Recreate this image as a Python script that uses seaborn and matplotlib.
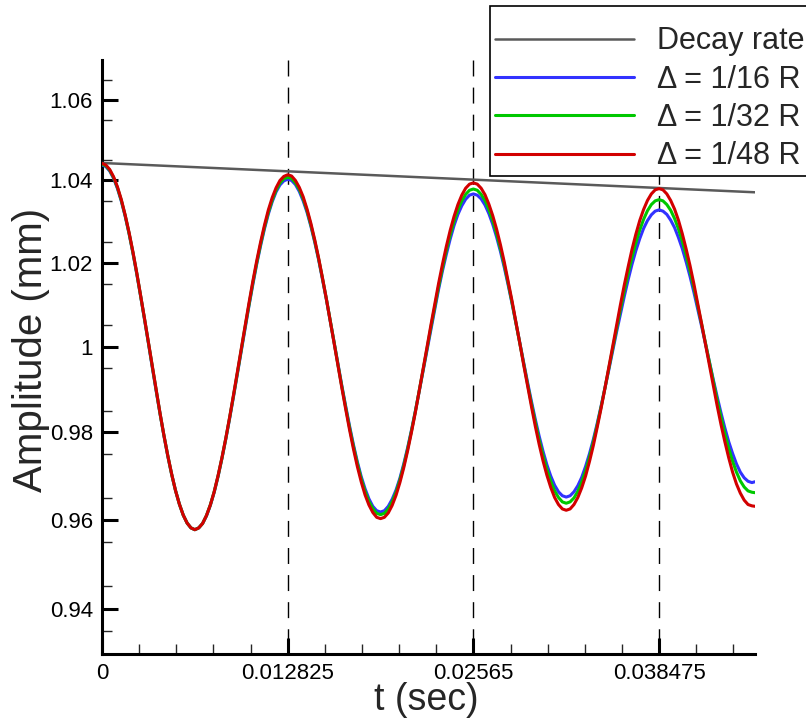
import pandas as pd
import matplotlib
matplotlib.use("Agg")
import matplotlib.pyplot as plt
from matplotlib.ticker import FixedLocator, FixedFormatter, NullFormatter
import seaborn as sns

# time samples (sec)
t = [0.0,
     0.0002672, 0.0005344, 0.0008016, 0.0010688, 0.0013359, 0.0016031, 0.0018703, 0.0021375,
     0.0024047, 0.0026719, 0.0029391, 0.0032063, 0.0034734, 0.0037406, 0.0040078, 0.004275,
     0.0045422, 0.0048094, 0.0050766, 0.0053438, 0.0056109, 0.0058781, 0.0061453, 0.0064125,
     0.0066797, 0.0069469, 0.0072141, 0.0074813, 0.0077484, 0.0080156, 0.0082828, 0.00855,
     0.0088172, 0.0090844, 0.0093516, 0.0096188, 0.0098859, 0.0101531, 0.0104203, 0.0106875,
     0.0109547, 0.0112219, 0.0114891, 0.0117563, 0.0120234, 0.0122906, 0.0125578, 0.012825,
     0.0130922, 0.0133594, 0.0136266, 0.0138938, 0.0141609, 0.0144281, 0.0146953, 0.0149625,
     0.0152297, 0.0154969, 0.0157641, 0.0160313, 0.0162984, 0.0165656, 0.0168328, 0.0171,
     0.0173672, 0.0176344, 0.0179016, 0.0181688, 0.0184359, 0.0187031, 0.0189703, 0.0192375,
     0.0195047, 0.0197719, 0.0200391, 0.0203063, 0.0205734, 0.0208406, 0.0211078, 0.021375,
     0.0216422, 0.0219094, 0.0221766, 0.0224438, 0.0227109, 0.0229781, 0.0232453, 0.0235125,
     0.0237797, 0.0240469, 0.0243141, 0.0245813, 0.0248484, 0.0251156, 0.0253828, 0.02565,
     0.0259172, 0.0261844, 0.0264516, 0.0267188, 0.0269859, 0.0272531, 0.0275203, 0.0277875,
     0.0280547, 0.0283219, 0.0285891, 0.0288563, 0.0291234, 0.0293906, 0.0296578, 0.029925,
     0.0301922, 0.0304594, 0.0307266, 0.0309938, 0.0312609, 0.0315281, 0.0317953, 0.0320625,
     0.0323297, 0.0325969, 0.0328641, 0.0331313, 0.0333984, 0.0336656, 0.0339328, 0.0342,
     0.0344672, 0.0347344, 0.0350016, 0.0352688, 0.0355359, 0.0358031, 0.0360703, 0.0363375,
     0.0366047, 0.0368719, 0.0371391, 0.0374063, 0.0376734, 0.0379406, 0.0382078, 0.038475,
     0.0387422, 0.0390094, 0.0392766, 0.0395438, 0.0398109, 0.0400781, 0.0403453, 0.0406125,
     0.0408797, 0.0411469, 0.0414141, 0.0416813, 0.0419484, 0.0422156, 0.0424828, 0.04275,
     0.0430172, 0.0432844, 0.0435516, 0.0438188, 0.0440859, 0.0443531, 0.0446203, 0.0448875,
     0.0451]

# amplitude (mm), delta = 1/16 R
amp_16 = [1.0438,
          1.0434, 1.0423, 1.0405, 1.0380, 1.0349, 1.0312, 1.0270, 1.0223, 1.0172, 1.0119, 1.0064, 1.0008,
          0.9951, 0.9896, 0.9843, 0.9792, 0.9745, 0.9703, 0.9666, 0.9635, 0.9610, 0.9592, 0.9581, 0.9577,
          0.9581, 0.9591, 0.9608, 0.9632, 0.9662, 0.9698, 0.9739, 0.9784, 0.9832, 0.9883, 0.9936, 0.9990,
          1.0044, 1.0097, 1.0148, 1.0197, 1.0241, 1.0282, 1.0318, 1.0348, 1.0372, 1.0389, 1.0399, 1.0403,
          1.0400, 1.0390, 1.0373, 1.0350, 1.0322, 1.0288, 1.0249, 1.0207, 1.0160, 1.0112, 1.0061, 1.0010,
          0.9959, 0.9908, 0.9860, 0.9814, 0.9771, 0.9732, 0.9698, 0.9670, 0.9647, 0.9630, 0.9620, 0.9617,
          0.9620, 0.9630, 0.9646, 0.9667, 0.9694, 0.9727, 0.9764, 0.9805, 0.9849, 0.9895, 0.9943, 0.9992,
          1.0041, 1.0089, 1.0136, 1.0180, 1.0220, 1.0257, 1.0290, 1.0317, 1.0338, 1.0354, 1.0364, 1.0367,
          1.0364, 1.0355, 1.0340, 1.0319, 1.0293, 1.0262, 1.0227, 1.0188, 1.0146, 1.0102, 1.0056, 1.0009,
          0.9962, 0.9916, 0.9872, 0.9830, 0.9791, 0.9756, 0.9725, 0.9699, 0.9678, 0.9663, 0.9654, 0.9651,
          0.9654, 0.9663, 0.9677, 0.9696, 0.9721, 0.9750, 0.9783, 0.9820, 0.9860, 0.9902, 0.9945, 0.9990,
          1.0034, 1.0077, 1.0119, 1.0159, 1.0196, 1.0229, 1.0258, 1.0283, 1.0302, 1.0316, 1.0325, 1.0328,
          1.0325, 1.0317, 1.0303, 1.0285, 1.0261, 1.0234, 1.0202, 1.0167, 1.0129, 1.0089, 1.0048, 1.0006,
          0.9964, 0.9923, 0.9883, 0.9845, 0.9810, 0.9778, 0.9751, 0.9727, 0.9708, 0.9695, 0.9687, 0.9684,
          0.9686]

# delta = 1/32 R
amp_32 = [1.0440,
          1.0436, 1.0425, 1.0407, 1.0382, 1.0351, 1.0314, 1.0271, 1.0224, 1.0174, 1.0120, 1.0065, 1.0009,
          0.9952, 0.9897, 0.9843, 0.9793, 0.9746, 0.9703, 0.9666, 0.9635, 0.9610, 0.9592, 0.9581, 0.9577,
          0.9581, 0.9591, 0.9609, 0.9633, 0.9663, 0.9699, 0.9740, 0.9785, 0.9834, 0.9885, 0.9938, 0.9993,
          1.0047, 1.0100, 1.0152, 1.0200, 1.0245, 1.0286, 1.0322, 1.0352, 1.0376, 1.0394, 1.0404, 1.0408,
          1.0405, 1.0394, 1.0378, 1.0355, 1.0326, 1.0291, 1.0252, 1.0209, 1.0162, 1.0113, 1.0062, 1.0010,
          0.9957, 0.9906, 0.9857, 0.9810, 0.9767, 0.9728, 0.9693, 0.9664, 0.9641, 0.9625, 0.9614, 0.9611,
          0.9614, 0.9624, 0.9640, 0.9662, 0.9690, 0.9723, 0.9761, 0.9803, 0.9848, 0.9896, 0.9945, 0.9995,
          1.0045, 1.0094, 1.0142, 1.0187, 1.0229, 1.0267, 1.0300, 1.0328, 1.0350, 1.0366, 1.0376, 1.0379,
          1.0376, 1.0366, 1.0351, 1.0329, 1.0302, 1.0270, 1.0234, 1.0194, 1.0150, 1.0104, 1.0056, 1.0008,
          0.9960, 0.9912, 0.9866, 0.9823, 0.9782, 0.9746, 0.9714, 0.9687, 0.9665, 0.9650, 0.9640, 0.9637,
          0.9640, 0.9649, 0.9664, 0.9685, 0.9711, 0.9742, 0.9777, 0.9816, 0.9858, 0.9902, 0.9948, 0.9995,
          1.0042, 1.0088, 1.0132, 1.0174, 1.0213, 1.0248, 1.0279, 1.0305, 1.0326, 1.0341, 1.0350, 1.0353,
          1.0350, 1.0341, 1.0327, 1.0307, 1.0282, 1.0252, 1.0218, 1.0180, 1.0140, 1.0097, 1.0053, 1.0008,
          0.9962, 0.9918, 0.9875, 0.9835, 0.9797, 0.9763, 0.9733, 0.9708, 0.9688, 0.9674, 0.9665, 0.9662,
          0.9661]

# delta = 1/48 R
amp_48 = [1.0442,
          1.0438, 1.0427, 1.0409, 1.0384, 1.0353, 1.0315, 1.0273, 1.0226, 1.0175, 1.0121, 1.0066, 1.0010,
          0.9953, 0.9898, 0.9844, 0.9793, 0.9746, 0.9704, 0.9666, 0.9635, 0.9610, 0.9592, 0.9581, 0.9577,
          0.9581, 0.9591, 0.9609, 0.9633, 0.9663, 0.9700, 0.9741, 0.9786, 0.9835, 0.9887, 0.9941, 0.9996,
          1.0050, 1.0104, 1.0156, 1.0205, 1.0250, 1.0291, 1.0328, 1.0358, 1.0382, 1.0400, 1.0410, 1.0414,
          1.0411, 1.0400, 1.0383, 1.0360, 1.0330, 1.0295, 1.0255, 1.0211, 1.0163, 1.0113, 1.0061, 1.0008,
          0.9955, 0.9903, 0.9853, 0.9805, 0.9761, 0.9721, 0.9686, 0.9656, 0.9633, 0.9616, 0.9605, 0.9602,
          0.9605, 0.9615, 0.9632, 0.9655, 0.9684, 0.9718, 0.9757, 0.9800, 0.9846, 0.9896, 0.9946, 0.9998,
          1.0050, 1.0100, 1.0150, 1.0196, 1.0239, 1.0278, 1.0312, 1.0341, 1.0364, 1.0381, 1.0391, 1.0394,
          1.0391, 1.0381, 1.0365, 1.0342, 1.0314, 1.0281, 1.0243, 1.0201, 1.0155, 1.0108, 1.0058, 1.0008,
          0.9957, 0.9908, 0.9860, 0.9814, 0.9772, 0.9734, 0.9701, 0.9673, 0.9650, 0.9634, 0.9624, 0.9621,
          0.9624, 0.9634, 0.9650, 0.9672, 0.9699, 0.9732, 0.9769, 0.9811, 0.9855, 0.9902, 0.9951, 1.0001,
          1.0050, 1.0099, 1.0146, 1.0190, 1.0232, 1.0269, 1.0302, 1.0329, 1.0351, 1.0367, 1.0377, 1.0380,
          1.0377, 1.0367, 1.0351, 1.0330, 1.0303, 1.0270, 1.0233, 1.0193, 1.0149, 1.0102, 1.0054, 1.0006,
          0.9957, 0.9909, 0.9862, 0.9818, 0.9778, 0.9741, 0.9708, 0.9681, 0.9660, 0.9644, 0.9634, 0.9631,
          0.9630]

decay_t = [0.0, 0.0451]
decay_amp = [1.0443, 1.0371]

names = ['Decay rate', 'Δ = 1/16 R', 'Δ = 1/32 R', 'Δ = 1/48 R']
colors = ['#5a5a5a', '#3232ff', '#00c800', '#d20000']

x_major = [0.0, 0.012825, 0.02565, 0.038475]
x_labels = ['0', '0.012825', '0.02565', '0.038475']
x_minor = [0.002565, 0.00513, 0.007695, 0.01026, 0.01539, 0.017955, 0.02052, 0.023085,
           0.028215, 0.03078, 0.033345, 0.03591, 0.04104, 0.043605]
y_major = [0.94, 0.96, 0.98, 1.0, 1.02, 1.04, 1.06]
y_labels = ['0.94', '0.96', '0.98', '1', '1.02', '1.04', '1.06']
y_minor = [0.935, 0.945, 0.955, 0.965, 0.975, 0.985, 0.995, 1.005, 1.015,
           1.025, 1.035, 1.045, 1.055, 1.065]

# long table for seaborn
df = pd.concat([
    pd.DataFrame({'t': decay_t, 'amp': decay_amp, 'series': names[0]}),
    pd.DataFrame({'t': t, 'amp': amp_16, 'series': names[1]}),
    pd.DataFrame({'t': t, 'amp': amp_32, 'series': names[2]}),
    pd.DataFrame({'t': t, 'amp': amp_48, 'series': names[3]}),
], ignore_index=True)

sns.set_style('white')
plt.rcParams['font.family'] = ['Liberation Sans', 'DejaVu Sans']

fig = plt.figure(figsize=(8.06, 7.19), dpi=100)
ax = fig.add_axes([102 / 806, 65 / 719, 653 / 806, 594 / 719])

sns.lineplot(data=df, x='t', y='amp', hue='series', hue_order=names,
             palette=dict(zip(names, colors)), sort=False, estimator=None,
             linewidth=2.2, legend=False, ax=ax, zorder=3)
handles = ax.get_lines()[:4]
handles[0].set_linewidth(1.8)

# dashed guides, drawn top-down so the dash pattern starts at the top
for xv in x_major[1:]:
    ax.axvline(xv, ymin=1, ymax=0, color='black', lw=1.0, linestyle=(0, (11.5, 8)), zorder=1)

ax.set_yscale('log')
ax.set_xlim(0, 0.0451)
ax.set_ylim(0.93, 1.07)
ax.xaxis.set_major_locator(FixedLocator(x_major))
ax.xaxis.set_major_formatter(FixedFormatter(x_labels))
ax.xaxis.set_minor_locator(FixedLocator(x_minor))
ax.yaxis.set_major_locator(FixedLocator(y_major))
ax.yaxis.set_major_formatter(FixedFormatter(y_labels))
ax.yaxis.set_minor_locator(FixedLocator(y_minor))
ax.yaxis.set_minor_formatter(NullFormatter())

ax.tick_params(which='major', direction='in', length=11.5, width=2.2, labelsize=16,
               pad=6.5, colors='black', left=True, bottom=True, top=False, right=False)
ax.tick_params(which='minor', direction='in', length=7.2, width=1.0,
               left=True, bottom=True, top=False, right=False)

for side in ['top', 'right']:
    ax.spines[side].set_visible(False)
for side in ['left', 'bottom']:
    ax.spines[side].set_linewidth(2.2)
    ax.spines[side].set_color('black')

ax.set_xlabel('t (sec)', fontsize=27)
ax.set_ylabel('Amplitude (mm)', fontsize=29)
ax.xaxis.set_label_coords(0.497, -0.047)
ax.yaxis.set_label_coords(-0.080, 0.512)

leg = fig.legend(handles, names, loc='upper left', bbox_to_anchor=(490 / 806, 1 - 6 / 719),
                 bbox_transform=fig.transFigure, fontsize=22, handlelength=4.55,
                 handletextpad=0.75, labelspacing=0.27, borderpad=0.17, borderaxespad=0,
                 title=' ', title_fontsize=6,
                 frameon=True, fancybox=False, framealpha=1, edgecolor='black')
leg.get_frame().set_linewidth(1.2)

fig.savefig('out.png', dpi=100)
